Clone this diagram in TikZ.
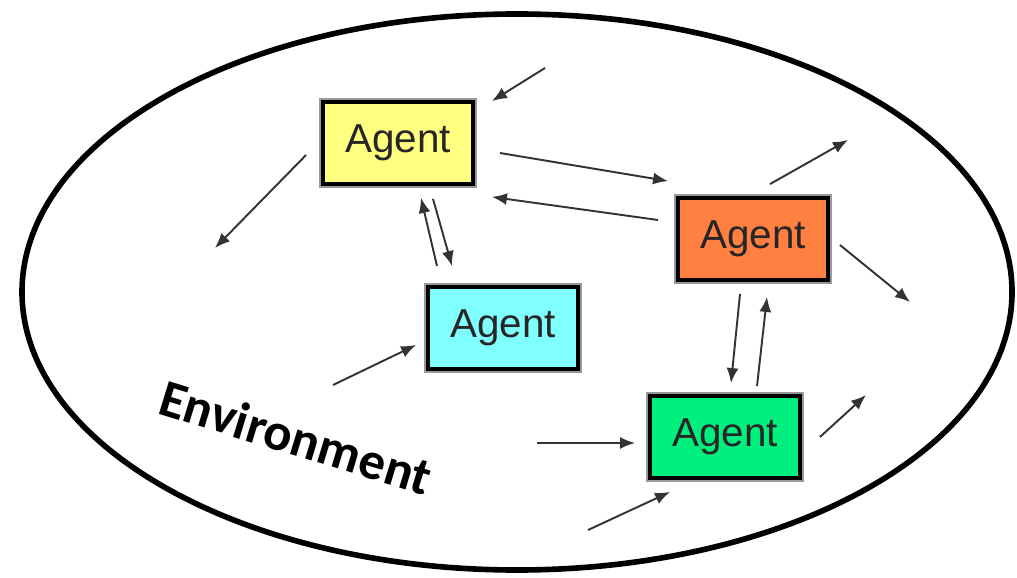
\documentclass[tikz,border=0pt]{standalone}
\usepackage{fontspec}
\setmainfont{Liberation Sans}
\newfontfamily\envfont{Carlito}
\usetikzlibrary{arrows.meta,calc}
\definecolor{agyellow}{HTML}{FFFF80}
\definecolor{agorange}{HTML}{FF8040}
\definecolor{agcyan}{HTML}{80FFFF}
\definecolor{aggreen}{HTML}{00F080}
\tikzset{
	agent/.style={draw=black, line width=1.1pt, minimum width=1.5cm, minimum height=0.82cm,
		font=\fontsize{11.5}{13}\selectfont, text=black!85,
		preaction={draw=black!40, line width=2.2pt}},
	flow/.style={-{Latex[length=1.5mm,width=1.2mm]}, line width=0.55pt, draw=black!80},
}

\begin{document}
\begin{tikzpicture}
		%%%%% START %%%%%
		\useasboundingbox (0,0) rectangle (10.17,-5.78);
		\draw[line width=1.6pt] (5.17,-2.92) ellipse (4.95 and 2.78);
		
		\node[agent, fill=agyellow] (yel) at (3.98,-1.43) {Agent};
		\node[agent, fill=agorange] (ora) at (7.53,-2.39) {Agent};
		\node[agent, fill=agcyan] (cya) at (5.03,-3.28) {Agent};
		\node[agent, fill=aggreen] (gre) at (7.25,-4.37) {Agent};
		
		\node[font=\envfont\bfseries\fontsize{15}{18}\selectfont, rotate=-17] (env) at (2.96,-4.37) {Environment};
		
		% free ends
		\coordinate (yelin) at (5.45,-0.68);
		\coordinate (yelout) at (2.15,-2.48);
		\coordinate (cyain) at (3.33,-3.85);
		\coordinate (oraout1) at (8.48,-1.40);
		\coordinate (oraout2) at (9.10,-3.02);
		\coordinate (grein1) at (5.37,-4.43);
		\coordinate (grein2) at (5.88,-5.30);
		\coordinate (greout) at (8.66,-3.95);
		
		% yellow
		\draw[flow] (yelin) -- ($(yel.north east)+(0.17,-0.01)$);
		\draw[flow] ($(yel.west)+(-0.15,-0.12)$) -- (yelout);
		\draw[flow] ($(yel.east)+(0.25,-0.10)$) -- ($(ora.north west)+(-0.08,0.15)$);
		\draw[flow] ($(ora.west)+(-0.18,0.19)$) -- ($(yel.south east)+(0.17,-0.11)$);
		\draw[flow] ($(cya.north)+(-0.66,0.19)$) -- ($(yel.south)+(0.23,-0.12)$);
		\draw[flow] ($(yel.south)+(0.35,-0.13)$) -- ($(cya.north)+(-0.51,0.19)$);
		
		% cyan
		\draw[flow] (cyain) -- ($(cya.west)+(-0.10,-0.17)$);
		
		% orange
		\draw[flow] ($(ora.north)+(0.17,0.12)$) -- (oraout1);
		\draw[flow] ($(ora.east)+(0.10,-0.06)$) -- (oraout2);
		\draw[flow] ($(ora.south)+(-0.13,-0.12)$) -- ($(gre.north)+(0.06,0.11)$);
		\draw[flow] ($(gre.north)+(0.32,0.08)$) -- ($(ora.south)+(0.14,-0.15)$);
		
		% green
		\draw[flow] (grein1) -- ($(gre.west)+(-0.13,-0.06)$);
		\draw[flow] (grein2) -- ($(gre.south west)+(0.22,-0.12)$);
		\draw[flow] ($(gre.east)+(0.18,0)$) -- (greout);
		%%%%% END %%%%%
\end{tikzpicture}
\end{document}
